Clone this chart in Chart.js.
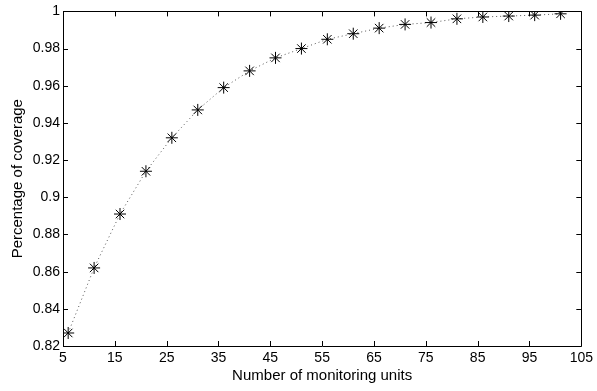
<!DOCTYPE html>
<html>
<head>
<meta charset="utf-8">
<script src="https://cdn.jsdelivr.net/npm/chart.js@4/dist/chart.umd.min.js"></script>
<style>
  html, body { margin: 0; padding: 0; background: #fff; }
  #wrap { width: 597px; height: 391px; position: relative; }
</style>
</head>
<body>
<div id="wrap"><canvas id="coverageChart"></canvas></div>
<script>
// Coverage vs. number of monitoring units
const units = [6, 11, 16, 21, 26, 31, 36, 41, 46, 51, 56, 61, 66, 71, 76, 81, 86, 91, 96, 101];
const coverage = [0.827, 0.862, 0.891, 0.914, 0.932, 0.947, 0.959, 0.968, 0.975, 0.980,
                  0.985, 0.988, 0.991, 0.993, 0.994, 0.996, 0.997, 0.9975, 0.998, 0.9987];
const xTicks = [5, 15, 25, 35, 45, 55, 65, 75, 85, 95, 105];
const yTicks = [0.82, 0.84, 0.86, 0.88, 0.9, 0.92, 0.94, 0.96, 0.98, 1];

const FONT = 'Liberation Sans, Arial, Helvetica, sans-serif';

// box around the plot with ticks pointing inwards on every side
const boxAxes = {
    id: 'boxAxes',
    afterDraw(chart) {
        const { ctx, chartArea: a, scales } = chart;
        const len = 5;
        ctx.save();
        ctx.strokeStyle = '#000';
        ctx.lineWidth = 1;
        ctx.beginPath();
        ctx.rect(Math.round(a.left) + 0.5, Math.round(a.top) + 0.5,
                 Math.round(a.right - a.left), Math.round(a.bottom - a.top));
        xTicks.forEach(v => {
            const px = Math.round(scales.x.getPixelForValue(v)) + 0.5;
            ctx.moveTo(px, a.bottom); ctx.lineTo(px, a.bottom - len);
            ctx.moveTo(px, a.top); ctx.lineTo(px, a.top + len);
        });
        yTicks.forEach(v => {
            const py = Math.round(scales.y.getPixelForValue(v)) + 0.5;
            ctx.moveTo(a.left, py); ctx.lineTo(a.left + len, py);
            ctx.moveTo(a.right, py); ctx.lineTo(a.right - len, py);
        });
        ctx.stroke();
        ctx.restore();
    }
};

new Chart(document.getElementById('coverageChart'), {
    type: 'line',
    data: {
        datasets: [{
            data: units.map((u, i) => ({ x: u, y: coverage[i] })),
            borderColor: '#555',
            borderWidth: 1,
            borderDash: [1, 3],
            tension: 0,
            pointStyle: 'star',
            pointRadius: 6,
            pointBorderColor: '#000',
            pointBackgroundColor: '#000',
            pointBorderWidth: 1
        }]
    },
    options: {
        responsive: true,
        maintainAspectRatio: false,
        animation: false,
        layout: { padding: { top: 10, right: 13, left: 0, bottom: 0 } },
        plugins: { legend: { display: false }, tooltip: { enabled: false } },
        scales: {
            x: {
                type: 'linear',
                min: 5,
                max: 105,
                afterBuildTicks: s => { s.ticks = xTicks.map(v => ({ value: v })); },
                afterFit: s => { s.height = 45; },
                grid: { display: false, drawTicks: false },
                border: { display: false },
                ticks: { color: '#000', padding: 4, maxRotation: 0, font: { family: FONT, size: 14 } },
                title: {
                    display: true,
                    text: 'Number of monitoring units',
                    color: '#000',
                    padding: { top: 0, bottom: 6 },
                    font: { family: FONT, size: 15 }
                }
            },
            y: {
                type: 'linear',
                min: 0.82,
                max: 1,
                afterBuildTicks: s => { s.ticks = yTicks.map(v => ({ value: v })); },
                afterFit: s => { s.width = 63; },
                grid: { display: false, drawTicks: false },
                border: { display: false },
                ticks: {
                    color: '#000',
                    padding: 3,
                    font: { family: FONT, size: 14 },
                    callback: v => String(Number(v.toFixed(2)))
                },
                title: {
                    display: true,
                    text: 'Percentage of coverage',
                    color: '#000',
                    padding: { top: 9, bottom: 0 },
                    font: { family: FONT, size: 15 }
                }
            }
        }
    },
    plugins: [boxAxes]
});
</script>
</body>
</html>
